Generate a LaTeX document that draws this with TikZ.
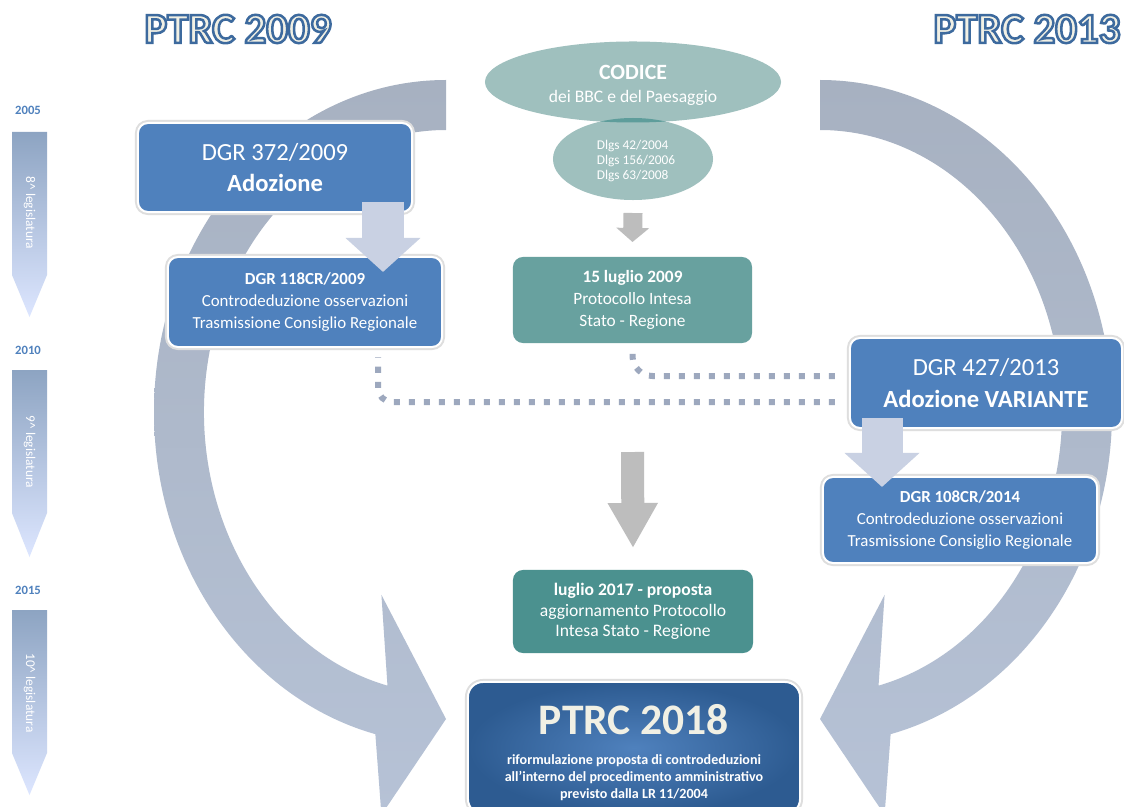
\documentclass[tikz,border=0pt]{standalone}
\usepackage{fontspec}
\setmainfont{Carlito}
\usepackage{tikz}
\usetikzlibrary{shapes.geometric, arrows.meta, positioning, calc}
\usepackage{xcolor}
\definecolor{BoxBlue}{HTML}{4F81BD}
\definecolor{BoxEdge}{HTML}{2D5B91}
\definecolor{CodTeal}{HTML}{9FC0BE}
\definecolor{LensTeal}{HTML}{5E9D9B}
\definecolor{ProtTeal}{HTML}{68A19F}
\definecolor{LugTeal}{HTML}{4B918F}
\definecolor{ArrTop}{HTML}{A7B1C1}
\definecolor{ArrBot}{HTML}{B6C2D6}
\definecolor{LightArrow}{HTML}{C9D1E3}
\definecolor{ArrGray}{HTML}{BDBDBD}
\definecolor{DotGray}{HTML}{9DA8BE}
\definecolor{TlTop}{HTML}{8DA4C2}
\definecolor{TlBot}{HTML}{DDE6FF}
\definecolor{TitleCream}{HTML}{F1F0E4}
% outlined title text (fill + stroke)
\newcommand{\outlined}[1]{\special{pdf:literal direct 2 Tr 1.8 w 0.239 0.416 0.620 RG}#1\special{pdf:literal direct 0 Tr}}
\tikzset{
    % boxes - rounded, white rim
    bluebox/.style={
        rectangle,
        rounded corners=0.25cm,
        fill=BoxBlue,
        draw=white,
        line width=0.05cm,
        preaction={draw=black!13, line width=0.15cm},
        text=white,
        align=center,
        inner sep=0pt,
        outer sep=0pt
    },
    tealbox/.style={
        rectangle,
        rounded corners=0.25cm,
        fill=ProtTeal,
        text=white,
        align=center,
        inner sep=0pt,
        outer sep=0pt
    },
    codice/.style={
        ellipse,
        fill=CodTeal,
        text=white,
        align=center,
        inner sep=0pt,
        outer sep=0pt
    },
    big/.style={font=\fontsize{17.5}{22.5}\selectfont},
    small/.style={font=\fontsize{12}{15.6}\selectfont},
    year/.style={font=\fontsize{9}{10}\selectfont\bfseries, text=BoxBlue},
    tllabel/.style={font=\fontsize{9.5}{10}\selectfont, text=white, rotate=-90},
    title/.style={font=\fontsize{30.5}{32}\selectfont\bfseries, text=TitleCream},
    % arrows
    bigarrow/.style={top color=ArrTop, bottom color=ArrBot},
    tlarrow/.style={top color=TlTop, bottom color=TlBot},
    lightarrow/.style={
        draw=LightArrow,
        line width=1.025cm,
        -{Triangle[width=1.825cm, length=0.85cm]}
    },
    grayarrow/.style={
        draw=ArrGray,
        line width=0.575cm,
        -{Triangle[width=1.175cm, length=1.125cm]}
    },
    smallgray/.style={
        draw=ArrGray,
        line width=0.475cm,
        -{Triangle[width=0.8cm, length=0.35cm]}
    },
    dotline/.style={
        draw=DotGray,
        line width=0.15cm,
        dash pattern=on 0.15cm off 0.225cm
    }
}

\begin{document}
\begin{tikzpicture}[x=0.025cm, y=-0.025cm]
    \useasboundingbox (0,0) rectangle (1124,807);
    \clip (0,0) rectangle (1124,807);
    \fill[white] (0,0) rectangle (1124,807);

    % big circular arrows
    \coordinate (lc) at (446,412);
    \coordinate (rc) at (820,412);
    \shade[bigarrow] ($(lc)+(270:292 and 332)$)
        arc[start angle=270, end angle=104, x radius=292, y radius=332]
        -- ($(lc)+(104:267 and 307)+(0,105)$) -- ($(lc)+(90:267 and 307)$)
        -- ($(lc)+(104:267 and 307)+(0,-115)$) -- ($(lc)+(104:242 and 282)$)
        arc[start angle=104, end angle=270, x radius=242, y radius=282] -- cycle;
    \shade[bigarrow] ($(rc)+(-90:292 and 332)$)
        arc[start angle=-90, end angle=76, x radius=292, y radius=332]
        -- ($(rc)+(76:267 and 307)+(0,105)$) -- ($(rc)+(90:267 and 307)$)
        -- ($(rc)+(76:267 and 307)+(0,-115)$) -- ($(rc)+(76:242 and 282)$)
        arc[start angle=76, end angle=-90, x radius=242, y radius=282] -- cycle;

    % timeline
    \foreach \t/\b/\k in {132/275/317, 370/513/557, 610/753/795}
        \shade[tlarrow] (12,\t) -- (47,\t) -- (47,\b) -- (29.5,\k) -- (12,\b) -- cycle;
    \node[year] (y05) at (28,110) {2005};
    \node[year] (y10) at (28,350) {2010};
    \node[year] (y15) at (28,590) {2015};
    \node[tllabel] (l8) at (29.5,213) {8\textasciicircum\ legislatura};
    \node[tllabel] (l9) at (29.5,452) {9\textasciicircum\ legislatura};
    \node[tllabel] (l10) at (29.5,693) {10\textasciicircum\ legislatura};

    % titles
    \node[title] (t09) at (238,29) {\outlined{PTRC 2009}};
    \node[title] (t13) at (1027,29) {\outlined{PTRC 2013}};

    % codice
    \node[codice, minimum width=7.4cm, minimum height=2.025cm] (codice) at (633,82) {};
    \node[codice, minimum width=4cm, minimum height=2.05cm] (dlgs) at (633,159) {};
    \begin{scope}
        \clip (codice.center) ellipse [x radius=148, y radius=40.5];
        \fill[LensTeal] (dlgs.center) ellipse [x radius=80, y radius=41];
    \end{scope}
    \node[font=\fontsize{15.5}{20}\selectfont\bfseries, text=white] (codicet) at (633,72) {CODICE};
    \node[font=\fontsize{12.5}{15}\selectfont, text=white] (codices) at (633,98) {dei BBC e del Paesaggio};
    \node[font=\fontsize{9.5}{11}\selectfont, text=white, align=left] (dlgst) at (636,161)
        {Dlgs 42/2004\\ Dlgs 156/2006\\ Dlgs 63/2008};

    % 2009 branch
    \node[bluebox, big, minimum width=6.85cm, minimum height=2.225cm] (adoz) at (275,167.5)
        {DGR 372/2009\\ \textbf{Adozione}};
    \node[bluebox, small, minimum width=6.85cm, minimum height=2.25cm] (contro) at (305,302)
        {\textbf{DGR 118CR/2009}\\ Controdeduzione osservazioni\\ Trasmissione Consiglio Regionale};

    % protocollo
    \node[tealbox, font=\fontsize{12.3}{15.6}\selectfont, minimum width=5.975cm, minimum height=2.15cm] (prot) at (632.5,300)
        {\textbf{15 luglio 2009}\\ Protocollo Intesa\\ Stato - Regione};
    \node[tealbox, fill=LugTeal, font=\fontsize{12.5}{14.5}\selectfont, minimum width=6cm, minimum height=2.075cm] (lug17) at (633,611.5)
        {\textbf{luglio 2017 - proposta}\\ aggiornamento Protocollo\\ Intesa Stato - Regione};

    % 2013 branch
    \node[bluebox, font=\fontsize{17.5}{22.7}\selectfont, minimum width=6.8cm, minimum height=2.25cm] (var) at (986,383)
        {DGR 427/2013\\ \textbf{Adozione VARIANTE}};
    \node[bluebox, small, minimum width=6.85cm, minimum height=2.15cm] (var108) at (960,520)
        {\textbf{DGR 108CR/2014}\\ Controdeduzione osservazioni\\ Trasmissione Consiglio Regionale};

    % PTRC 2018
    \node[bluebox, rounded corners=0.375cm, shading=radial, inner color=BoxBlue, outer color=BoxEdge,
        minimum width=8.3cm, minimum height=3.3cm] (ptrc18) at (634,748) {};
    \node[font=\fontsize{31}{34}\selectfont\bfseries, text=TitleCream] (ptrc18t) at (634,720) {PTRC 2018};
    \node[font=\fontsize{10}{12}\selectfont\bfseries, text=white, align=center] (ptrc18s) at (634,778)
        {riformulazione proposta di controdeduzioni\\ all’interno del procedimento amministrativo\\ previsto dalla LR 11/2004};

    % connectors
    \draw[smallgray] ($(dlgs.south)+(0,13)$) -- ($(prot.north)+(0,-15)$);
    \draw[grayarrow] ($(prot.south)+(0,109)$) -- ($(lug17.north)+(0,-22)$);
    \draw[lightarrow] ($(adoz.south)+(108,-10)$) -- ($(contro.north)+(78,15)$);
    \draw[lightarrow] ($(var.south)+(-104,-10)$) -- ($(var108.north)+(-78,10)$);
    \draw[dotline, rounded corners=0.5cm] ($(var.west)+(-15,-7)$) -| ($(prot.south)+(0,9)$);
    \draw[dotline, rounded corners=0.35cm] ($(var.west)+(-15,19)$) -| ($(contro.south)+(73,10)$);
\end{tikzpicture}
\end{document}
